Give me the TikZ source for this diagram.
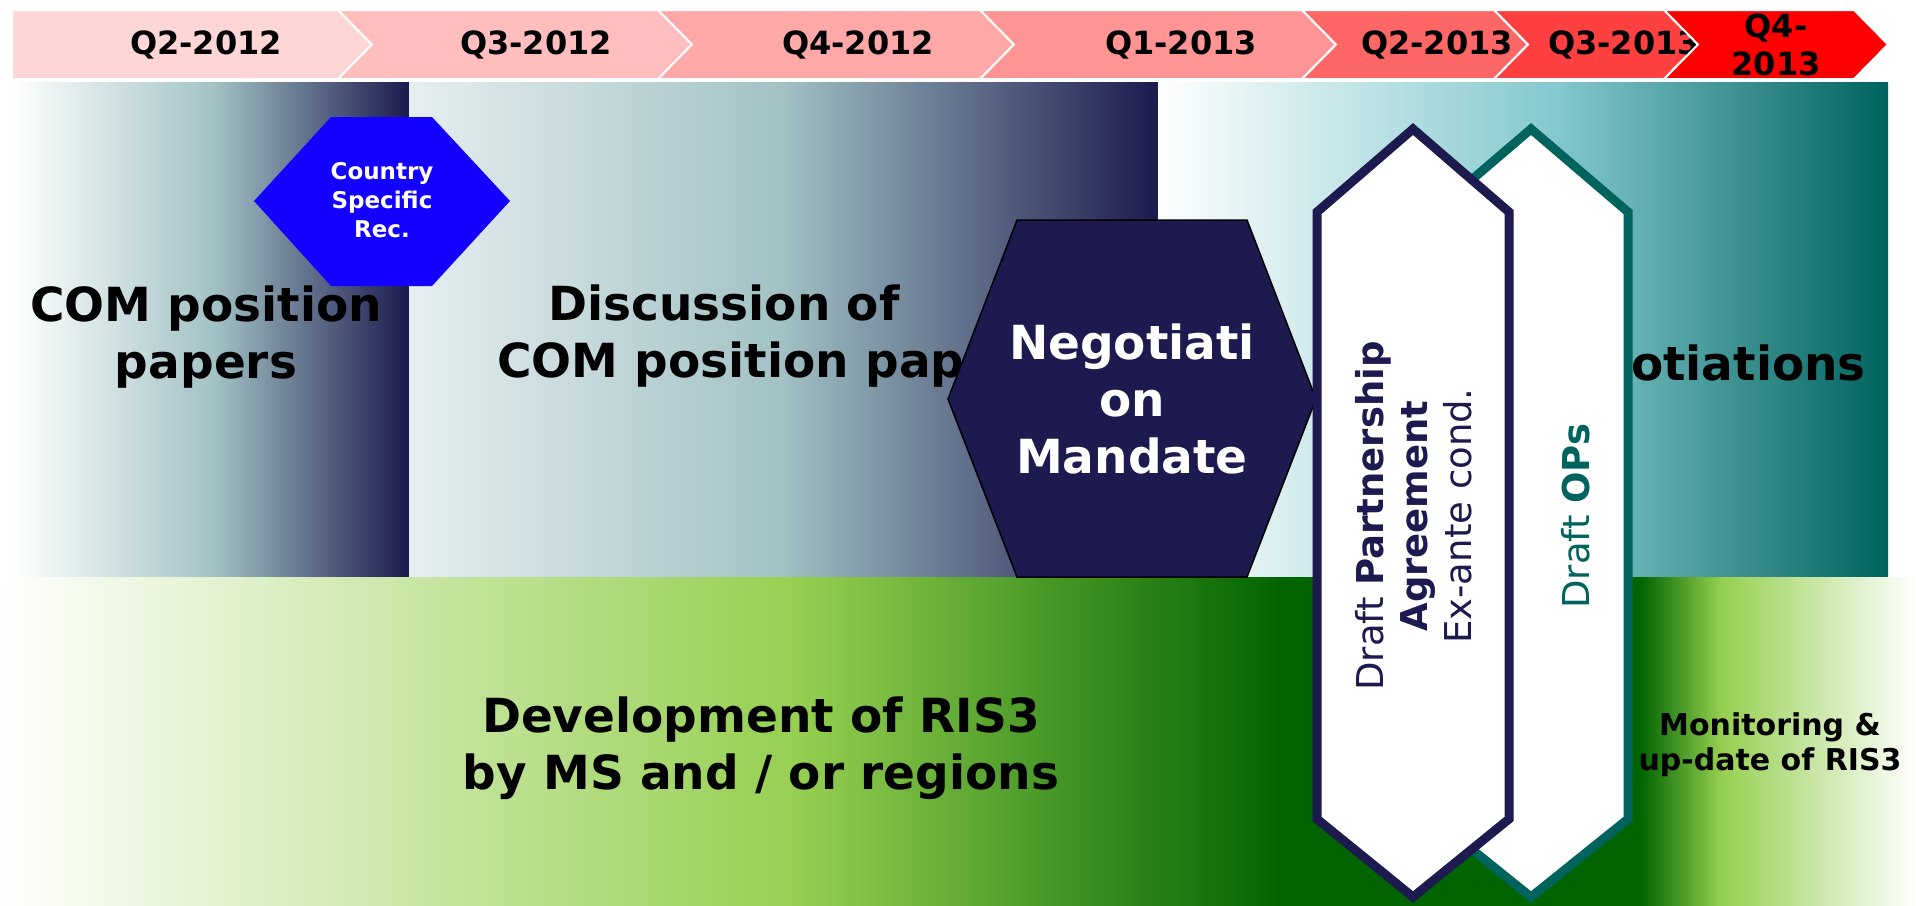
\documentclass[tikz,border=0pt]{standalone}
\usepackage{fontspec}
\setmainfont{DejaVu Sans}
\usepackage{tikz}

\definecolor{navyhex}{HTML}{1C1A4E}
\definecolor{bluehex}{HTML}{1400FF}
\definecolor{tealdark}{HTML}{00635E}
\definecolor{teallight}{HTML}{82C8CD}
\definecolor{greyteal}{HTML}{A2C2C5}
\definecolor{palegrey}{HTML}{E6EEF0}
\definecolor{greenlight}{HTML}{95CF50}
\definecolor{greendark}{HTML}{006400}

\begin{document}
\begin{tikzpicture}[x=1pt, y=-1pt,
    quarter/.style={font=\fontsize{32}{38}\selectfont\bfseries, align=center, inner sep=0pt},
    phase/.style={font=\fontsize{47}{57}\selectfont\bfseries, align=center, inner sep=0pt},
    smalltext/.style={font=\fontsize{30}{35}\selectfont\bfseries, align=center, inner sep=0pt},
    csr/.style={font=\fontsize{23}{29}\selectfont\bfseries, text=white, align=center, inner sep=0pt},
    draft/.style={font=\fontsize{37}{44}\selectfont, align=center, inner sep=0pt, rotate=90},
    slot/.style={draw=white, line width=2pt},
    hexline/.style={fill=white, line width=9pt}]
    \useasboundingbox (0,0) rectangle (1916,905);

    % Upper panels
    \fill [left color=white, right color=greyteal]      (12,82)   rectangle (215,577);
    \fill [left color=greyteal, right color=navyhex]    (214,82)  rectangle (409,577);
    \fill [left color=palegrey, right color=greyteal]   (409,82)  rectangle (781,577);
    \fill [left color=greyteal, right color=navyhex]    (780,82)  rectangle (1158,577);
    \fill [left color=white, right color=teallight]     (1158,82) rectangle (1561,577);
    \fill [left color=teallight, right color=tealdark]  (1560,82) rectangle (1888,577);

    % Lower panel
    \fill [left color=white, right color=greenlight]     (0,577)    rectangle (801,910);
    \fill [left color=greenlight, right color=greendark] (800,577)  rectangle (1281,910);
    \fill [greendark]                                    (1280,577) rectangle (1641,910);
    \fill [left color=greendark, right color=greenlight] (1640,577) rectangle (1721,910);
    \fill [left color=greenlight, right color=white]     (1720,577) rectangle (1916,910);

    % Quarters
    \foreach \xa/\xb/\nd/\tint/\lab/\lx [count=\i] in {
        12/338/0/16/Q2-2012/206, 338/658/34/26/Q3-2012/536,
        658/980/34/34/Q4-2012/858, 980/1302/34/42/Q1-2013/1181,
        1302/1494/34/60/Q2-2013/1437, 1494/1664/34/75/Q3-2013/1624,
        1664/1854/34/100/{Q4-\\2013}/1776}
    {
        \filldraw [slot, fill=red!\tint] (\xa,10) -- (\xb,10) -- (\xb+34,44.5) -- (\xb,79) -- (\xa,79) -- (\xa+\nd,44.5) -- cycle;
        \node [quarter] (q\i) at (\lx,45) {\lab};
    }

    % Panel texts
    \node [phase] (com) at (206,337) {COM position\\papers};
    \node [phase, anchor=base] (discuss) at (724,320) {Discussion of};
    \node [phase, anchor=base west] (compap) at (497,377) {COM position papers};
    \node [phase, anchor=base] (negot) at (1696,380) {Negotiations};
    \node [phase] (ris) at (761,748) {Development of RIS3\\by MS and / or regions};
    \node [smalltext] (monitor) at (1770,745) {Monitoring \&\\up-date of RIS3};

    % Country specific recommendations
    \fill [bluehex] (254,201) -- (331,117) -- (432,117) -- (510,201) -- (432,286) -- (331,286) -- cycle;
    \node [csr] (csr) at (382,200) {Country\\Specific\\Rec.};

    % Mandate
    \filldraw [fill=navyhex, draw=black, line width=1.5pt] (948,399) -- (1017,220) -- (1247,220) -- (1316,399) -- (1247,577) -- (1017,577) -- cycle;
    \node [phase, text=white] (mandate) at (1132,399) {Negotiati\\on\\Mandate};

    % Drafts
    \filldraw [hexline, draw=tealdark] (1531,129) -- (1628,212) -- (1628,819) -- (1531,897) -- (1434,819) -- (1434,212) -- cycle;
    \filldraw [hexline, draw=navyhex]  (1413,129) -- (1509,212) -- (1509,819) -- (1413,897) -- (1317,819) -- (1317,212) -- cycle;
    \node [draft, text=navyhex] (pa) at (1414,516) {Draft \textbf{Partnership}\\\textbf{Agreement}\\Ex-ante cond.};
    \node [draft, text=tealdark] (ops) at (1576,516) {Draft \textbf{OPs}};

\end{tikzpicture}
\end{document}
